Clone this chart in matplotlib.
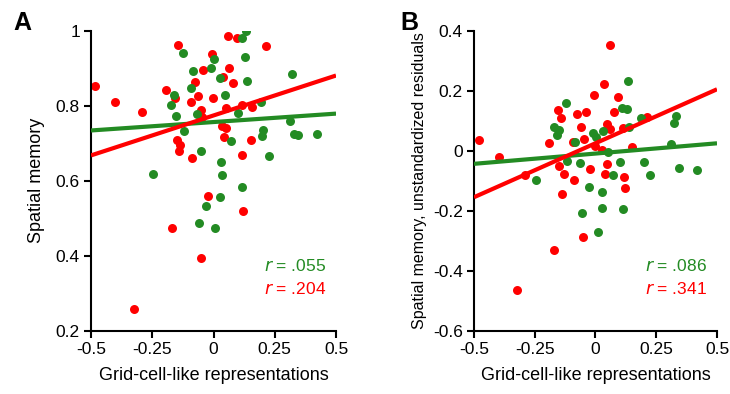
import numpy as np
import matplotlib
matplotlib.use("Agg")
from matplotlib import pyplot as plt

plt.rcParams["font.family"] = ["Liberation Sans", "DejaVu Sans"]

GREEN = "#238b23"
RED = "#ff0000"

# Panel A: grid-cell-like representations vs spatial memory
a_green_x = [0.133, 0.115, -0.123, 0.002, -0.010, 0.129, -0.082, 0.027, 0.138, -0.092,
             -0.160, 0.048, -0.173, -0.153, -0.069, 0.099, 0.194, 0.320, 0.312, 0.329,
             0.346, 0.421, 0.201, 0.197, 0.225, -0.120, 0.073, -0.051, 0.029, 0.035,
             -0.248, 0.115, 0.027, -0.031, -0.059, 0.007]
a_green_y = [1.000, 0.982, 0.942, 0.925, 0.902, 0.929, 0.892, 0.874, 0.867, 0.848,
             0.828, 0.829, 0.801, 0.774, 0.778, 0.781, 0.811, 0.884, 0.759, 0.726,
             0.722, 0.726, 0.735, 0.719, 0.666, 0.733, 0.706, 0.680, 0.651, 0.616,
             0.618, 0.584, 0.557, 0.533, 0.486, 0.473]
a_red_x = [-0.482, -0.402, -0.293, -0.144, -0.194, -0.157, -0.093, -0.062, -0.074, -0.042,
           -0.007, -0.003, 0.040, 0.062, 0.081, 0.059, 0.095, 0.213, 0.050, 0.115,
           0.156, -0.051, -0.048, 0.033, 0.051, 0.043, -0.150, -0.137, -0.141, -0.089,
           0.118, 0.152, -0.024, 0.120, -0.171, -0.052, -0.323]
a_red_y = [0.854, 0.810, 0.784, 0.961, 0.841, 0.822, 0.810, 0.826, 0.864, 0.895,
           0.937, 0.820, 0.877, 0.900, 0.861, 0.987, 0.981, 0.960, 0.793, 0.802,
           0.797, 0.789, 0.771, 0.746, 0.742, 0.717, 0.710, 0.695, 0.679, 0.661,
           0.668, 0.709, 0.560, 0.520, 0.473, 0.395, 0.257]

# Panel B: residuals
b_green_x = [0.134, -0.121, 0.110, 0.131, -0.171, -0.150, -0.160, -0.011, 0.003, 0.030,
             0.138, 0.188, 0.331, 0.324, 0.310, -0.083, 0.053, -0.119, -0.064, 0.099,
             0.199, 0.344, 0.419, 0.073, 0.225, -0.245, -0.027, 0.028, -0.057, 0.026,
             0.115, 0.011]
b_green_y = [0.233, 0.161, 0.144, 0.139, 0.078, 0.069, 0.052, 0.058, 0.047, 0.067,
             0.078, 0.108, 0.116, 0.092, 0.024, 0.028, -0.003, -0.033, -0.040, -0.036,
             -0.039, -0.056, -0.063, -0.080, -0.081, -0.098, -0.120, -0.136, -0.207, -0.192,
             -0.194, -0.270]
b_red_x = [0.060, 0.037, -0.008, 0.093, -0.156, -0.141, -0.076, -0.041, 0.077, -0.061,
           0.049, 0.060, 0.115, 0.210, -0.049, -0.092, -0.191, -0.001, 0.028, 0.152,
           -0.480, -0.398, -0.290, -0.149, -0.130, -0.089, -0.022, 0.047, 0.039, 0.117,
           0.121, -0.139, -0.052, -0.169, -0.321]
b_red_y = [0.353, 0.222, 0.186, 0.181, 0.136, 0.109, 0.123, 0.129, 0.128, 0.080,
           0.090, 0.073, 0.077, 0.114, 0.040, 0.029, 0.026, 0.017, 0.001, 0.013,
           0.037, -0.020, -0.080, -0.052, -0.078, -0.099, -0.061, -0.044, -0.078, -0.088,
           -0.124, -0.144, -0.287, -0.332, -0.463]

a_r = [".055", ".204"]
b_r = [".086", ".341"]


def panel(ax, gx, gy, rx, ry, r_text, ylim, yticks, ylabel, ysize, pad):
    ax.scatter(rx, ry, s=42, color=RED, linewidths=0, zorder=2)
    ax.scatter(gx, gy, s=42, color=GREEN, linewidths=0, zorder=2)
    xs = np.array([-0.5, 0.5])
    for x, y, c in [(gx, gy, GREEN), (rx, ry, RED)]:
        m, b = np.polyfit(x, y, 1)
        ax.plot(xs, m * xs + b, color=c, lw=3, solid_capstyle="butt", zorder=3)
    ax.set_xlim(-0.5, 0.5)
    ax.set_ylim(*ylim)
    ax.set_xticks([-0.5, -0.25, 0, 0.25, 0.5])
    ax.set_xticklabels(["-0.5", "-0.25", "0", "0.25", "0.5"])
    ax.set_yticks(yticks)
    ax.set_yticklabels([("%g" % t) for t in yticks])
    for s in ["top", "right"]:
        ax.spines[s].set_visible(False)
    for s in ["left", "bottom"]:
        ax.spines[s].set_linewidth(1.5)
    ax.tick_params(width=1.5, length=5, labelsize=12.5, direction="out", pad=3)
    ax.set_xlabel("Grid-cell-like representations", fontsize=13, labelpad=7)
    ax.set_ylabel(ylabel, fontsize=ysize, labelpad=pad)
    ax.text(0.96, 0.215, "$r$ = " + r_text[0], transform=ax.transAxes,
            ha="right", va="center", fontsize=12.5, color=GREEN)
    ax.text(0.96, 0.14, "$r$ = " + r_text[1], transform=ax.transAxes,
            ha="right", va="center", fontsize=12.5, color=RED)


fig = plt.figure(figsize=(7.3, 3.94), dpi=100)
ax1 = fig.add_axes([0.1247, 0.1607, 0.3356, 0.761])
ax2 = fig.add_axes([0.6493, 0.1607, 0.3329, 0.761])

panel(ax1, a_green_x, a_green_y, a_red_x, a_red_y, a_r, (0.2, 1.0),
      [0.2, 0.4, 0.6, 0.8, 1.0], "Spatial memory", 13, 8)
panel(ax2, b_green_x, b_green_y, b_red_x, b_red_y, b_r, (-0.6, 0.4),
      [-0.6, -0.4, -0.2, 0, 0.2, 0.4], "Spatial memory, unstandardized residuals",
      11.5, 4)

fig.text(0.018, 0.972, "A", fontsize=18, fontweight="bold", va="top")
fig.text(0.548, 0.972, "B", fontsize=18, fontweight="bold", va="top")

fig.savefig("out.png", dpi=100)
